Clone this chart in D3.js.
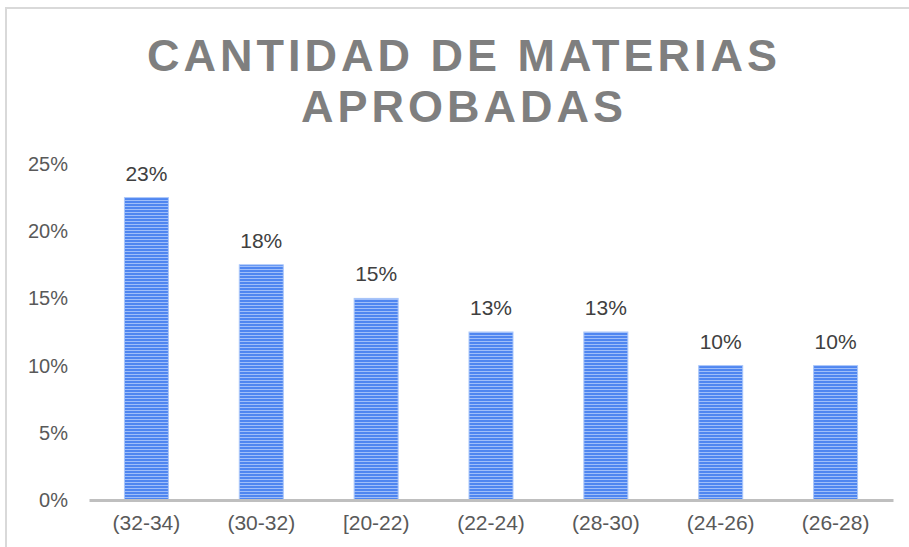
<!DOCTYPE html>
<html>
<head>
<meta charset="utf-8">
<script src="https://cdn.jsdelivr.net/npm/d3@7"></script>
<style>
    body { margin: 0; background: #fff; }
    text { font-family: "Liberation Sans", Arial, sans-serif; }
</style>
</head>
<body>
<svg id="chart" width="909" height="547"></svg>
<script>
const categories = ['(32-34)', '(30-32)', '[20-22)', '(22-24)', '(28-30)', '(24-26)', '(26-28)'];
const values = [22.5, 17.5, 15, 12.5, 12.5, 10, 10];
const yTicks = [0, 5, 10, 15, 20, 25];
const titleLines = ['CANTIDAD DE MATERIAS', 'APROBADAS'];

const svg = d3.select('#chart');

// chart frame (cropped at right/bottom)
svg.append('rect')
    .attr('x', 6)
    .attr('y', 8)
    .attr('width', 960)
    .attr('height', 600)
    .attr('fill', 'none')
    .attr('stroke', '#d9d9d9')
    .attr('stroke-width', 2);

// striped fill for bars
const pattern = svg.append('defs')
    .append('pattern')
    .attr('id', 'stripes')
    .attr('patternUnits', 'userSpaceOnUse')
    .attr('width', 10)
    .attr('height', 3);
pattern.append('rect')
    .attr('width', 10).attr('height', 3)
    .attr('fill', '#4f86f0');
pattern.append('rect')
    .attr('y', 2)
    .attr('width', 10).attr('height', 1)
    .attr('fill', '#9fbef9');

svg.selectAll('.title')
    .data(titleLines)
    .enter()
    .append('text')
    .attr('class', 'title')
    .attr('x', 464)
    .attr('y', (d, i) => 71 + i * 51)
    .attr('text-anchor', 'middle')
    .attr('font-size', 45)
    .attr('font-weight', 'bold')
    .attr('letter-spacing', 4)
    .attr('fill', '#7f7f7f')
    .text(d => d);

const xScale = d3.scaleBand()
    .domain(categories)
    .range([89, 893])
    .paddingInner(0.617)
    .paddingOuter(0.3085);

const yScale = d3.scaleLinear()
    .domain([0, 25])
    .range([500, 164]);

// y tick labels
svg.selectAll('.ytick')
    .data(yTicks)
    .enter()
    .append('text')
    .attr('class', 'ytick')
    .attr('x', 68)
    .attr('y', d => yScale(d) + 7)
    .attr('text-anchor', 'end')
    .attr('font-size', 20)
    .attr('fill', '#595959')
    .text(d => d + '%');

// bars
svg.selectAll('.bar')
    .data(values)
    .enter()
    .append('rect')
    .attr('class', 'bar')
    .attr('x', (d, i) => xScale(categories[i]))
    .attr('y', d => yScale(d))
    .attr('width', xScale.bandwidth())
    .attr('height', d => yScale(0) - yScale(d))
    .attr('fill', 'url(#stripes)')
    .attr('stroke', '#a9c6fa')
    .attr('stroke-width', 1);

// data labels
svg.selectAll('.label')
    .data(values)
    .enter()
    .append('text')
    .attr('class', 'label')
    .attr('x', (d, i) => xScale(categories[i]) + xScale.bandwidth() / 2)
    .attr('y', d => yScale(d) - 17)
    .attr('text-anchor', 'middle')
    .attr('font-size', 21)
    .attr('fill', '#404040')
    .text(d => Math.round(d) + '%');

// x axis
const xAxis = d3.axisBottom(xScale).tickSize(0).tickPadding(15);
const gx = svg.append('g')
    .attr('transform', `translate(0,${yScale(0)})`)
    .call(xAxis);
gx.select('.domain')
    .attr('stroke', '#bfbfbf')
    .attr('stroke-width', 3);
gx.selectAll('text')
    .attr('font-size', 21)
    .attr('fill', '#595959')
    .attr('font-family', '"Liberation Sans", Arial, sans-serif');
</script>
</body>
</html>
